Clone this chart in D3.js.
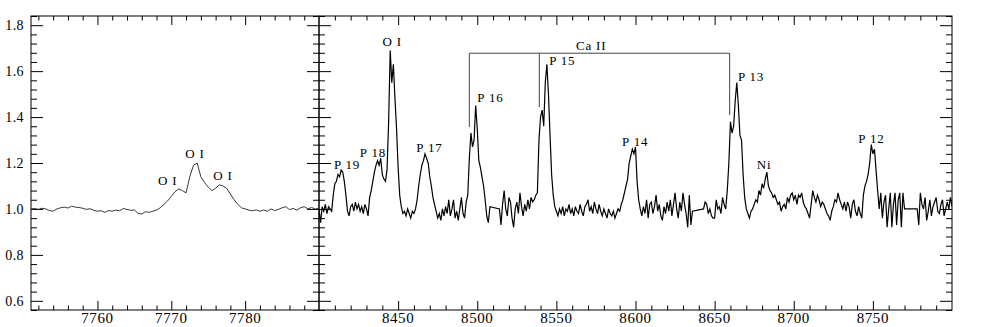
<!DOCTYPE html>
<html><head><meta charset="utf-8">
<script src="https://cdn.jsdelivr.net/npm/d3@7"></script>
<style>
body{margin:0;background:#fff;}
text{font-family:"Liberation Serif","Times New Roman",serif;fill:#000;}
</style></head>
<body><svg id="c" width="981" height="327"></svg>
<script>
// ---------- data ----------
const yTicks = [0.6, 0.8, 1.0, 1.2, 1.4, 1.6, 1.8];
const leftTicks = [7760, 7770, 7780];
const rightTicks = [8450, 8500, 8550, 8600, 8650, 8700, 8750];
const leftStart = 7751, leftStep = 0.5;
const leftFlux = [
1.000,1.002,0.998,1.003,1.000,0.993,0.990,1.000,1.005,1.008,
1.004,1.012,1.008,1.006,1.003,0.998,1.001,0.994,0.990,0.992,
0.985,0.993,0.990,0.995,0.992,1.002,0.998,0.994,0.996,0.980,
0.978,0.988,0.985,0.990,0.995,1.005,1.020,1.035,1.055,1.075,
1.087,1.080,1.070,1.140,1.190,1.200,1.140,1.115,1.095,1.080,
1.090,1.105,1.100,1.090,1.065,1.040,1.020,1.005,1.000,0.995,
0.992,0.996,0.990,0.995,0.990,1.000,0.993,0.998,1.005,1.010,
0.997,1.002,0.995,1.005,1.010,1.000,1.006,1.000,1.004];
const rightStart = 8400, rightStep = 1;
const rightFlux = [
1.00,0.94,1.01,0.99,1.02,0.98,1.01,1.00,0.99,1.06,
1.11,1.12,1.15,1.14,1.17,1.16,1.12,1.06,0.99,0.97,
1.01,1.02,0.99,1.03,1.00,1.02,0.99,1.01,0.98,1.02,
1.00,0.97,1.05,1.08,1.12,1.16,1.19,1.21,1.19,1.22,
1.15,1.13,1.12,1.17,1.38,1.69,1.55,1.63,1.48,1.35,
1.18,1.06,1.01,0.98,0.99,0.97,1.00,0.98,0.96,0.99,
0.98,1.00,1.04,1.10,1.15,1.19,1.21,1.24,1.22,1.20,
1.14,1.10,1.05,1.02,0.99,0.96,0.98,0.95,1.00,0.97,
1.01,0.98,1.04,0.97,1.00,1.04,0.96,0.99,0.95,1.00,
1.05,0.98,0.96,1.03,1.06,1.22,1.33,1.27,1.30,1.45,
1.35,1.21,1.18,1.14,1.10,1.04,0.97,0.94,1.01,null,
null,null,null,null,1.00,0.93,1.02,1.08,1.00,0.97,
1.05,1.03,0.96,0.92,1.00,1.03,0.98,1.07,1.01,0.97,
1.02,0.99,1.04,1.00,1.05,1.03,1.04,1.06,1.07,1.30,
1.40,1.43,1.36,1.55,1.63,1.50,1.32,1.15,1.06,1.01,
0.99,0.97,1.00,0.98,1.01,0.97,1.00,0.99,1.02,0.98,
1.00,0.97,1.01,0.99,0.98,1.02,0.99,0.97,1.01,1.02,
1.04,0.99,1.01,0.98,1.03,1.00,0.98,1.02,0.99,0.97,
1.00,0.98,0.96,1.00,0.98,0.97,0.99,0.96,0.98,1.00,
0.99,1.02,1.04,1.07,1.10,1.13,1.20,1.23,1.26,1.24,
1.27,1.12,1.04,1.00,0.97,1.01,0.98,1.04,0.96,1.02,
1.03,0.98,1.01,1.06,0.99,1.02,0.97,0.95,1.01,0.98,
1.03,0.99,1.04,0.97,1.02,1.07,1.00,0.96,1.03,0.99,
1.07,1.02,0.98,0.92,1.06,0.93,0.99,null,null,null,
null,null,null,1.00,1.03,1.02,0.98,1.00,0.97,0.96,
0.96,1.04,1.00,1.01,0.98,1.05,1.02,1.00,1.08,1.20,
1.38,1.33,1.36,1.47,1.55,1.45,1.32,1.30,1.15,1.05,
1.00,0.98,0.96,0.99,1.00,1.02,1.04,1.03,1.08,1.06,
1.11,1.09,1.13,1.16,1.10,1.08,1.07,1.05,1.06,1.04,
1.02,1.03,0.99,1.01,1.02,1.00,1.05,1.03,1.06,1.07,
1.04,1.06,1.02,1.06,1.05,1.07,1.03,1.01,1.00,0.98,
0.96,1.02,1.08,1.05,1.03,1.06,1.04,1.01,1.03,1.02,
1.00,0.98,0.97,0.95,0.99,1.01,1.04,1.03,1.07,1.04,
1.02,1.00,1.03,0.99,1.03,1.01,0.96,1.02,1.04,0.99,
0.97,1.01,0.98,0.96,1.06,1.10,1.12,1.15,1.20,1.28,
1.24,1.26,1.17,1.08,1.00,1.07,0.96,1.03,1.06,0.92,
1.00,1.07,0.92,1.02,1.07,0.93,1.04,1.07,0.92,1.07,
1.00,null,null,null,null,null,null,null,1.00,0.93,
1.07,1.02,1.00,1.05,0.95,0.99,1.04,0.97,1.01,1.03,
1.05,0.99,0.98,1.02,1.04,0.97,1.00,1.03,1.00,1.05,
1.01];
const leftLabels = [
  {t:"O I", w:7769.5, f:1.104},
  {t:"O I", w:7773.2, f:1.220},
  {t:"O I", w:7777.0, f:1.126}];
const rightLabels = [
  {t:"P 19", w:8417.7, f:1.174},
  {t:"P 18", w:8434.1, f:1.226},
  {t:"O I",  w:8446.2, f:1.709},
  {t:"P 17", w:8469.8, f:1.248},
  {t:"P 16", w:8508.3, f:1.465},
  {t:"P 15", w:8553.7, f:1.626},
  {t:"Ca II",w:8572.0, f:1.691},
  {t:"P 14", w:8599.8, f:1.274},
  {t:"P 13", w:8673.0, f:1.557},
  {t:"Ni",   w:8681.2, f:1.174},
  {t:"P 12", w:8749.1, f:1.285}];
const caLines = [8495.0, 8539.2, 8659.5];
const caLow = [1.357, 1.443, 1.409];
const caTop = 1.678;

// ---------- layout ----------
const svg = d3.select("#c");
const X0 = 31, XM = 319, X1 = 952, Y0 = 16, Y1 = 310;
const y = d3.scaleLinear().domain([0.56, 1.84]).range([Y1, Y0]);
const xl = d3.scaleLinear().domain([7751, 7790]).range([X0, XM]);
const xr = d3.scaleLinear().domain([8400, 8800]).range([XM, X1]);

const defs = svg.append("defs");
defs.append("clipPath").attr("id","cl").append("rect").attr("x",X0).attr("y",Y0).attr("width",XM-X0).attr("height",Y1-Y0);
defs.append("clipPath").attr("id","cr").append("rect").attr("x",XM).attr("y",Y0).attr("width",X1-XM).attr("height",Y1-Y0);

const yMinor = d3.range(0.56, 1.8401, 0.04).map(v => +v.toFixed(2))
  .filter(v => !yTicks.some(t => Math.abs(t-v) < 1e-6));

function panel(x, xMinor, xMajor) {
  const g = svg.append("g");
  const [a, b] = x.range();
  const ax = (gen, tx, ty, vals, size) => g.append("g").attr("transform",`translate(${tx},${ty})`)
    .call(gen.tickValues(vals).tickSize(size).tickFormat(() => ""))
    .call(s => s.select(".domain").remove());
  ax(d3.axisBottom(x), 0, Y1, xMinor, -4.5);
  ax(d3.axisBottom(x), 0, Y1, xMajor, -9);
  ax(d3.axisTop(x), 0, Y0, xMinor, -4.5);
  ax(d3.axisTop(x), 0, Y0, xMajor, -9);
  ax(d3.axisLeft(y), a, 0, yMinor, -6);
  ax(d3.axisLeft(y), a, 0, yTicks, -12);
  ax(d3.axisRight(y), b, 0, yMinor, -6);
  ax(d3.axisRight(y), b, 0, yTicks, -12);
  g.selectAll(".tick line").attr("stroke","#000").attr("stroke-width",1);
  g.append("rect").attr("x",a).attr("y",Y0).attr("width",b-a).attr("height",Y1-Y0)
    .attr("fill","none").attr("stroke","#000").attr("stroke-width",1);
  // x tick labels
  g.append("g").selectAll("text").data(xMajor).join("text")
    .attr("x", d => x(d)).attr("y", Y1 + 13)
    .attr("text-anchor","middle").attr("font-size",15).attr("letter-spacing","0.6px")
    .text(d => d);
}

panel(xl, d3.range(7752, 7790, 2).filter(v => v % 10 !== 0), leftTicks);
panel(xr, d3.range(8410, 8800, 10).filter(v => v % 50 !== 0), rightTicks);

// y tick labels
svg.append("g").selectAll("text").data(yTicks).join("text")
  .attr("x", X0 - 7).attr("y", d => y(d) + 5)
  .attr("text-anchor","end").attr("font-size",14).attr("letter-spacing","0.4px")
  .text(d => d.toFixed(1));

// spectra
const lp = leftFlux.map((f,i) => [leftStart + i*leftStep, f]);
const rp = rightFlux.map((f,i) => [rightStart + i*rightStep, f]).filter(d => d[1] !== null);
svg.append("path").datum(lp).attr("clip-path","url(#cl)")
  .attr("d", d3.line().x(d => xl(d[0])).y(d => y(d[1])))
  .attr("fill","none").attr("stroke","#222").attr("stroke-width",0.9);
svg.append("path").datum(rp).attr("clip-path","url(#cr)")
  .attr("d", d3.line().x(d => xr(d[0])).y(d => y(d[1])))
  .attr("fill","none").attr("stroke","#000").attr("stroke-width",1.2);

// Ca II bracket
const br = svg.append("g").attr("stroke","#444").attr("stroke-width",1).attr("fill","none");
br.append("line").attr("x1",xr(caLines[0])).attr("x2",xr(caLines[2])).attr("y1",y(caTop)).attr("y2",y(caTop));
caLines.forEach((w,i) => br.append("line").attr("x1",xr(w)).attr("x2",xr(w)).attr("y1",y(caTop)).attr("y2",y(caLow[i])));

// labels
function labels(data, x) {
  svg.append("g").selectAll("text").data(data).join("text")
    .attr("x", d => x(d.w)).attr("y", d => y(d.f))
    .attr("text-anchor","middle").attr("font-size",13).attr("letter-spacing","0.8px")
    .text(d => d.t);
}
labels(leftLabels, xl);
labels(rightLabels, xr);
</script></body></html>
